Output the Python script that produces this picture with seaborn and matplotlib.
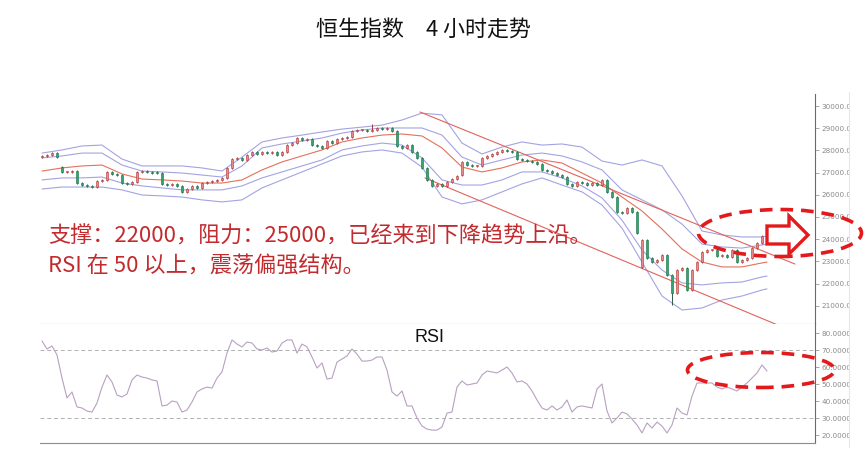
import numpy as np
import pandas as pd
import matplotlib
matplotlib.use("Agg")
import matplotlib.pyplot as plt
import seaborn as sns
from matplotlib.patches import Ellipse, Polygon, Rectangle
from matplotlib.lines import Line2D
from matplotlib.ticker import FormatStrFormatter

# ---------------- data ----------------
opens = [
    27700, 27750, 27790, 27880, 27250, 27030, 27030, 27070, 26530, 26440,
    26400, 26350, 26620, 26670, 27030, 26940, 26890, 26530, 26490, 26580,
    27030, 27070, 27030, 27000, 26980, 26490, 26440, 26490, 26400, 26130,
    26260, 26400, 26310, 26530, 26580, 26620, 26670, 26760, 27210, 27610,
    27660, 27570, 27790, 27930, 27840, 27930, 27880, 27930, 27790, 27930,
    28240, 28330, 28560, 28470, 28510, 28240, 28200, 28110, 28420, 28330,
    28510, 28560, 28600, 28870, 28920, 28920, 28870, 28920, 29010, 28960,
    29010, 28870, 28200, 28110, 28240, 27930, 27660, 27210, 26670, 26400,
    26490, 26400, 26580, 26710, 26900, 27480, 27340, 27300, 27300, 27660,
    27750, 27840, 27930, 28020, 27970, 27930, 27610, 27570, 27520, 27480,
    27390, 27120, 27070, 26980, 26890, 26800, 26490, 26400, 26580, 26530,
    26440, 26530, 26440, 26670, 26130, 25900, 25220, 25180, 25400, 25220,
    22750, 23960, 23150, 22970, 23060, 23290, 22390, 21580, 22610, 22700,
    21710, 22610, 22970, 23420, 23510, 23510, 23240, 23290, 23200, 23510,
    22970, 23060, 23150, 23600, 23830, 24140]
highs = [
    27810, 27850, 27940, 27920, 27300, 27090, 27130, 27100, 26580, 26490,
    26450, 26670, 26720, 27090, 27080, 26990, 26930, 26580, 26630, 27080,
    27120, 27120, 27080, 27050, 27020, 26540, 26540, 26540, 26440, 26310,
    26450, 26450, 26580, 26630, 26670, 26720, 26810, 27260, 27660, 27710,
    27710, 27840, 27980, 27980, 27980, 27980, 27980, 27980, 27980, 28290,
    28380, 28610, 28610, 28560, 28560, 28290, 28250, 28470, 28470, 28560,
    28610, 28650, 28920, 28970, 28970, 28970, 29200, 29060, 29060, 29060,
    29060, 28920, 28250, 28290, 28290, 27980, 27710, 27260, 26720, 26540,
    26540, 26630, 26760, 26900, 27530, 27530, 27390, 27350, 27710, 27800,
    27890, 27980, 28070, 28070, 28020, 27980, 27660, 27620, 27570, 27530,
    27440, 27170, 27120, 27030, 26940, 26850, 26540, 26630, 26630, 26580,
    26580, 26580, 26720, 26720, 26180, 25950, 25270, 25450, 25450, 25270,
    24010, 24010, 23200, 23110, 23340, 23340, 22440, 22660, 22750, 22750,
    22660, 23020, 23470, 23560, 23560, 23560, 23340, 23340, 23560, 23560,
    23110, 23200, 23650, 23880, 24190, 24330]
lows = [
    27640, 27700, 27740, 27650, 26980, 26970, 26980, 26480, 26390, 26340,
    26300, 26310, 26570, 26630, 26890, 26840, 26480, 26440, 26440, 26540,
    26980, 26980, 26950, 26930, 26440, 26390, 26390, 26350, 26080, 26080,
    26210, 26260, 26260, 26480, 26530, 26570, 26620, 26710, 27160, 27560,
    27520, 27520, 27740, 27790, 27790, 27830, 27830, 27740, 27740, 27880,
    28190, 28280, 28420, 28420, 28190, 28150, 28060, 28060, 28280, 28280,
    28460, 28510, 28550, 28820, 28870, 28820, 28820, 28870, 28910, 28910,
    28820, 28150, 28060, 28060, 27880, 27610, 27160, 26620, 26350, 26350,
    26350, 26350, 26530, 26660, 26850, 27290, 27250, 27250, 27250, 27610,
    27700, 27790, 27880, 27920, 27880, 27560, 27520, 27470, 27430, 27340,
    27070, 27020, 26930, 26840, 26750, 26440, 26350, 26350, 26480, 26390,
    26390, 26390, 26390, 26080, 25850, 25170, 25130, 25130, 25170, 24230,
    22700, 23100, 22920, 22920, 23010, 22340, 21040, 21530, 22560, 21660,
    21660, 22560, 22920, 23370, 23460, 23190, 23190, 23150, 23150, 22920,
    22920, 23010, 23100, 23550, 23780, 24090]
closes = [
    27750, 27790, 27880, 27700, 27030, 27030, 27070, 26530, 26440, 26400,
    26350, 26620, 26670, 27030, 26940, 26890, 26530, 26490, 26580, 27030,
    27070, 27030, 27000, 26980, 26490, 26440, 26490, 26400, 26130, 26260,
    26400, 26310, 26530, 26580, 26620, 26670, 26760, 27210, 27610, 27660,
    27570, 27790, 27930, 27840, 27930, 27880, 27930, 27790, 27930, 28240,
    28330, 28560, 28470, 28510, 28240, 28200, 28110, 28420, 28330, 28510,
    28560, 28600, 28870, 28920, 28920, 28870, 28920, 29010, 28960, 29010,
    28870, 28200, 28110, 28240, 27930, 27660, 27210, 26670, 26400, 26490,
    26400, 26580, 26710, 26850, 27480, 27340, 27300, 27300, 27660, 27750,
    27840, 27930, 28020, 27970, 27930, 27610, 27570, 27520, 27480, 27390,
    27120, 27070, 26980, 26890, 26800, 26490, 26400, 26580, 26530, 26440,
    26530, 26440, 26670, 26130, 25900, 25220, 25180, 25400, 25220, 24280,
    23960, 23150, 22970, 23060, 23290, 22390, 21580, 22610, 22700, 21710,
    22610, 22970, 23420, 23510, 23510, 23240, 23290, 23200, 23510, 22970,
    23060, 23150, 23600, 23830, 24140, 24280]

rsi = [
    75.3, 70.6, 72.4, 67.1, 53.5, 41.8, 45.3, 36.5, 35.9, 34.1,
    33.5, 38.8, 48.2, 55.3, 51.2, 43.5, 42.4, 44.1, 52.4, 55.3,
    54.1, 53.5, 52.4, 51.8, 37.1, 37.6, 40.0, 39.4, 33.5, 34.7,
    39.4, 45.3, 47.1, 48.2, 47.6, 53.5, 57.1, 68.2, 75.9, 73.5,
    71.8, 74.7, 74.1, 70.6, 70.0, 71.2, 68.8, 69.4, 74.1, 75.9,
    75.9, 68.2, 73.5, 71.8, 65.9, 59.4, 62.4, 52.9, 53.5, 62.9,
    64.7, 66.5, 70.6, 67.6, 63.5, 63.5, 64.1, 65.9, 65.9, 58.2,
    45.3, 42.9, 45.9, 37.1, 37.1, 30.0, 25.3, 23.5, 22.9, 22.9,
    24.7, 32.9, 33.5, 48.2, 51.8, 49.4, 50.0, 50.6, 55.3, 57.6,
    57.1, 56.5, 58.2, 60.0, 56.5, 51.2, 51.8, 50.0, 45.9, 40.6,
    35.9, 34.7, 37.1, 34.7, 36.5, 40.6, 33.5, 36.5, 37.1, 36.5,
    35.9, 47.1, 50.0, 34.1, 27.1, 30.0, 33.5, 32.4, 29.4, 25.9,
    21.2, 27.1, 24.1, 27.6, 25.3, 21.2, 25.9, 35.9, 32.9, 31.8,
    42.9, 50.6, 50.6, 50.6, 50.6, 48.2, 47.1, 48.2, 47.1, 45.9,
    48.2, 50.6, 53.5, 56.5, 61.2, 57.6]

band_idx = [0, 4, 8, 12, 16, 20, 24, 28, 32, 36, 40, 44, 48, 52, 56, 60, 64, 68, 72,
            76, 80, 84, 88, 92, 96, 100, 104, 108, 112, 116, 120, 124, 128, 132,
            136, 140, 144, 145]
boll_outer_up = [27880, 28020, 28200, 28240, 27610, 27300, 27300, 27300, 27210, 27070,
                 27700, 28380, 28560, 28690, 28830, 28960, 29050, 29140, 29370, 29680,
                 29600, 28330, 27840, 28150, 28380, 28240, 28290, 28150, 27520, 27340,
                 27570, 27300, 25950, 24370, 24190, 24100, 24100, 24140]
boll_inner_up = [27660, 27750, 27880, 27880, 27340, 27070, 27030, 26980, 26890, 26800,
                 27300, 28110, 28290, 28420, 28560, 28780, 28920, 29010, 29010, 29010,
                 28690, 27700, 27340, 27570, 27790, 27880, 27750, 27480, 27120, 26220,
                 25770, 25320, 24680, 23780, 23650, 23600, 23740, 23780]
boll_mid = [27070, 27210, 27300, 27340, 26940, 26710, 26670, 26620, 26530, 26530,
            26670, 27120, 27480, 27750, 28020, 28380, 28560, 28690, 28740, 28650,
            28110, 27250, 27030, 27210, 27480, 27570, 27430, 26980, 26530, 25900,
            25270, 24460, 23560, 22970, 22750, 22750, 22930, 22970]
boll_inner_dn = [26670, 26760, 26760, 26800, 26530, 26400, 26310, 26220, 26220, 26220,
                 26400, 26760, 27030, 27300, 27570, 28020, 28200, 28330, 28240, 27660,
                 26670, 26440, 26440, 26670, 27030, 27030, 26760, 26400, 25860, 24860,
                 23510, 22610, 22030, 21940, 22030, 22070, 22300, 22340]
boll_outer_dn = [26260, 26350, 26350, 26350, 26220, 25990, 25950, 25900, 25770, 25680,
                 25770, 26310, 26670, 27030, 27390, 27750, 27930, 28020, 27880, 27250,
                 25900, 25590, 25770, 26130, 26490, 26760, 26440, 26130, 25540, 24500,
                 22970, 21440, 20810, 20900, 21260, 21440, 21710, 21760]

trend_idx_upper = [75.6, 150.6]
trend_upper = [29730, 22880]
trend_idx_lower = [76.6, 147.6]
trend_lower = [26760, 20090]

rsi_levels = [70, 30]
price_ticks = list(range(21000, 30001, 1000))
rsi_ticks = list(range(20, 81, 10))

title = "恒生指数\u30004 小时走势"
note1 = "支撑：22000，阻力：25000，已经来到下降趋势上沿。"
note2 = "RSI 在 50 以上，震荡偏强结构。"

# ---------------- figure ----------------
sns.set_style("white")
CJK = ["Noto Sans CJK SC", "DejaVu Sans"]
plt.rcParams["font.family"] = CJK

W, H = 866, 459
fig = plt.figure(figsize=(W / 100, H / 100), dpi=100)
fig.patch.set_facecolor("white")


def fx(px):
    return px / W


def fy(py):
    return 1 - py / H


ax = fig.add_axes([fx(40), fy(324), fx(815) - fx(40), fy(94) - fy(324)])
ax2 = fig.add_axes([fx(40), fy(443), fx(815) - fx(40), fy(324) - fy(443)])

# Bollinger bands
bands = pd.DataFrame({
    "idx": band_idx * 5,
    "value": boll_outer_up + boll_inner_up + boll_mid + boll_inner_dn + boll_outer_dn,
    "band": (["ou"] * len(band_idx) + ["iu"] * len(band_idx) + ["mid"] * len(band_idx)
             + ["il"] * len(band_idx) + ["ol"] * len(band_idx)),
})
BLUE = "#a3a3e3"
palette = {"ou": BLUE, "iu": BLUE, "mid": "#e5705c", "il": BLUE, "ol": BLUE}
sns.lineplot(data=bands, x="idx", y="value", hue="band", units="band", estimator=None,
             palette=palette, legend=False, linewidth=0.8, ax=ax, zorder=2)

# trend channel
sns.lineplot(x=trend_idx_upper, y=trend_upper, color="#e2625c", linewidth=0.8, ax=ax, zorder=2)
sns.lineplot(x=trend_idx_lower, y=trend_lower, color="#e2625c", linewidth=0.8, ax=ax, zorder=2)

# candles
df = pd.DataFrame({"idx": np.arange(len(closes)), "open": opens, "high": highs,
                   "low": lows, "close": closes})
up = df["close"] >= df["open"]
RED_FILL, RED_EDGE = "#e58a8a", "#b8413f"
GRN_FILL, GRN_EDGE = "#34a36e", "#1f7a4f"
wick_col = np.where(up, "#9a3a38", "#2d5a45")
ax.vlines(df["idx"], df["low"], df["high"], colors=wick_col, linewidth=0.7, zorder=3)
body = np.maximum((df["close"] - df["open"]).abs(), 30)
bottom = np.minimum(df["open"], df["close"])
ax.bar(df["idx"], body, bottom=bottom, width=0.56,
       color=np.where(up, RED_FILL, GRN_FILL),
       edgecolor=np.where(up, RED_EDGE, GRN_EDGE), linewidth=0.45, zorder=4)

ax.set_xlim(-0.4, 154.6)
ax.set_ylim(20179, 30541)

# RSI
rsi_df = pd.DataFrame({"idx": np.arange(len(rsi)), "rsi": rsi})
sns.lineplot(data=rsi_df, x="idx", y="rsi", color="#b8a0c2", linewidth=0.8, ax=ax2)
for lv in rsi_levels:
    ax2.axhline(lv, color="#b0b0b0", linewidth=0.7, linestyle=(0, (4, 3)), zorder=1)
ax2.set_xlim(-0.4, 154.6)
ax2.set_ylim(15.3, 85.3)

for a, ticks, fmt in ((ax, price_ticks, "%.2f"), (ax2, rsi_ticks, "%.4f")):
    a.set_xticks([])
    a.set_xlabel("")
    a.set_ylabel("")
    a.yaxis.tick_right()
    a.set_yticks(ticks)
    a.yaxis.set_major_formatter(FormatStrFormatter(fmt))
    a.tick_params(axis="y", direction="out", length=3, width=0.6, colors="#9a9a9a",
                  labelsize=5.2, labelcolor="#8a8a8a", pad=1.5)
    for lab in a.get_yticklabels():
        lab.set_fontfamily("DejaVu Sans")
    a.spines["left"].set_visible(False)
    a.spines["top"].set_visible(False)
    a.spines["right"].set_color("#6a6a6a")
    a.spines["right"].set_linewidth(0.8)
    a.spines["bottom"].set_color("#8c8c8c")
    a.spines["bottom"].set_linewidth(0.8)
    a.set_facecolor("white")

# clip labels at the screenshot border
fig.add_artist(Rectangle((fx(849), 0), 1 - fx(849), 1, transform=fig.transFigure,
                         facecolor="white", edgecolor="none", zorder=1.5))
fig.add_artist(Line2D([fx(849), fx(849)], [fy(92), fy(447)], transform=fig.transFigure,
                      color="#e6e6e6", linewidth=0.8, zorder=1.6))

# texts
fig.text(fx(424), fy(30), title, ha="center", va="center", fontsize=15.8, color="#111111",
         family=CJK)
fig.text(fx(48), fy(237), note1, ha="left", va="center", fontsize=15.9, color="#c22a2e",
         family=CJK)
fig.text(fx(48), fy(267), note2, ha="left", va="center", fontsize=15.9, color="#c22a2e",
         family=CJK)
fig.text(fx(429), fy(337), "RSI", ha="center", va="center", fontsize=13, color="#111111",
         family=["Liberation Sans", "DejaVu Sans"])

# annotation ellipses and arrow
DASH_RED = "#e3191c"
fig.add_artist(Ellipse((fx(780), fy(233)), width=163 / W, height=47 / H,
                       transform=fig.transFigure, fill=False, edgecolor=DASH_RED,
                       linewidth=2.6, linestyle=(0, (3.5, 2.2)), zorder=5))
fig.add_artist(Ellipse((fx(761), fy(370)), width=147 / W, height=35 / H,
                       transform=fig.transFigure, fill=False, edgecolor=DASH_RED,
                       linewidth=2.6, linestyle=(0, (3.5, 2.2)), zorder=5))
arrow_px = [(767, 226), (789, 226), (789, 216), (808, 235), (789, 254), (789, 244), (767, 244)]
fig.add_artist(Polygon([(fx(x), fy(y)) for x, y in arrow_px], closed=True,
                       transform=fig.transFigure, facecolor="white", edgecolor=DASH_RED,
                       linewidth=2.4, joinstyle="miter", zorder=6))

fig.savefig("out.png", dpi=100, facecolor="white")
